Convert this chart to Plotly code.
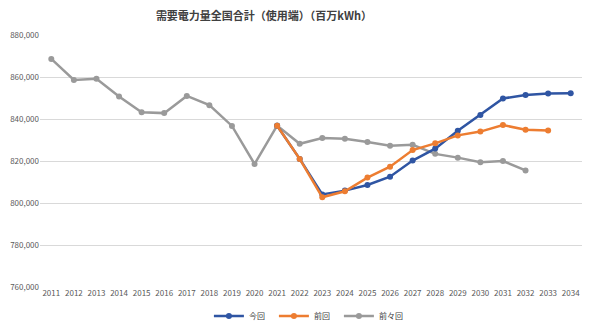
import plotly.graph_objects as go

years = [str(y) for y in range(2011, 2035)]

# 今回 (2021-2034)
current_years = [str(y) for y in range(2021, 2035)]
current = [836800, 821000, 804100, 805900, 808600, 812500, 820200, 825900,
           834400, 841900, 849800, 851400, 852200, 852300]

# 前回 (2021-2033)
previous_years = [str(y) for y in range(2021, 2034)]
previous = [836800, 821000, 802700, 805600, 812100, 817300, 825200, 828400,
            832200, 834000, 837100, 834900, 834500]

# 前々回 (2011-2032)
prior_years = [str(y) for y in range(2011, 2033)]
prior = [868600, 858600, 859200, 850700, 843200, 842800, 851000, 846600,
         836700, 818600, 836900, 828200, 830900, 830600, 829000, 827300,
         827700, 823400, 821600, 819400, 820000, 815500]

fig = go.Figure()

# (name, x, y, colour, legend rank); drawn gray -> blue -> orange
series = [
    ("前々回", prior_years, prior, "#9A9A9A", 3),
    ("今回", current_years, current, "#2F55A3", 1),
    ("前回", previous_years, previous, "#ED7D31", 2),
]
for name, xs, ys, color, rank in series:
    fig.add_trace(go.Scatter(
        x=xs, y=ys, name=name, mode="lines+markers", legendrank=rank,
        line=dict(color=color, width=2.5),
        marker=dict(color=color, size=6),
    ))

font_family = "Noto Sans CJK JP, Noto Sans, sans-serif"

fig.update_layout(
    width=590, height=326,
    margin=dict(l=40, r=8, t=35, b=39, autoexpand=False),
    paper_bgcolor="white", plot_bgcolor="white",
    font=dict(family=font_family, size=8, color="#595959"),
    title=dict(text="<b>需要電力量全国合計（使用端）（百万kWh）</b>",
               x=264 / 590, xanchor="center", y=1 - 16 / 326, yanchor="middle",
               font=dict(size=11, color="#404040", family=font_family)),
    showlegend=True,
    legend=dict(orientation="h", x=290 / 590, xanchor="center",
                yref="container", y=1 - 316 / 326, yanchor="middle",
                font=dict(size=8, color="#404040"),
                entrywidth=20, entrywidthmode="pixels"),
    xaxis=dict(type="category", categoryorder="array", categoryarray=years,
               range=[-0.5, 23.5], showgrid=False, showline=False,
               ticks="", tickfont=dict(size=8, color="#595959")),
    yaxis=dict(range=[760000, 880000], dtick=20000, tickformat=",d",
               showgrid=True, gridcolor="#D9D9D9", gridwidth=1,
               zeroline=False, showline=False, ticks="",
               tickfont=dict(size=8, color="#595959")),
)

fig.write_html("out.html")
